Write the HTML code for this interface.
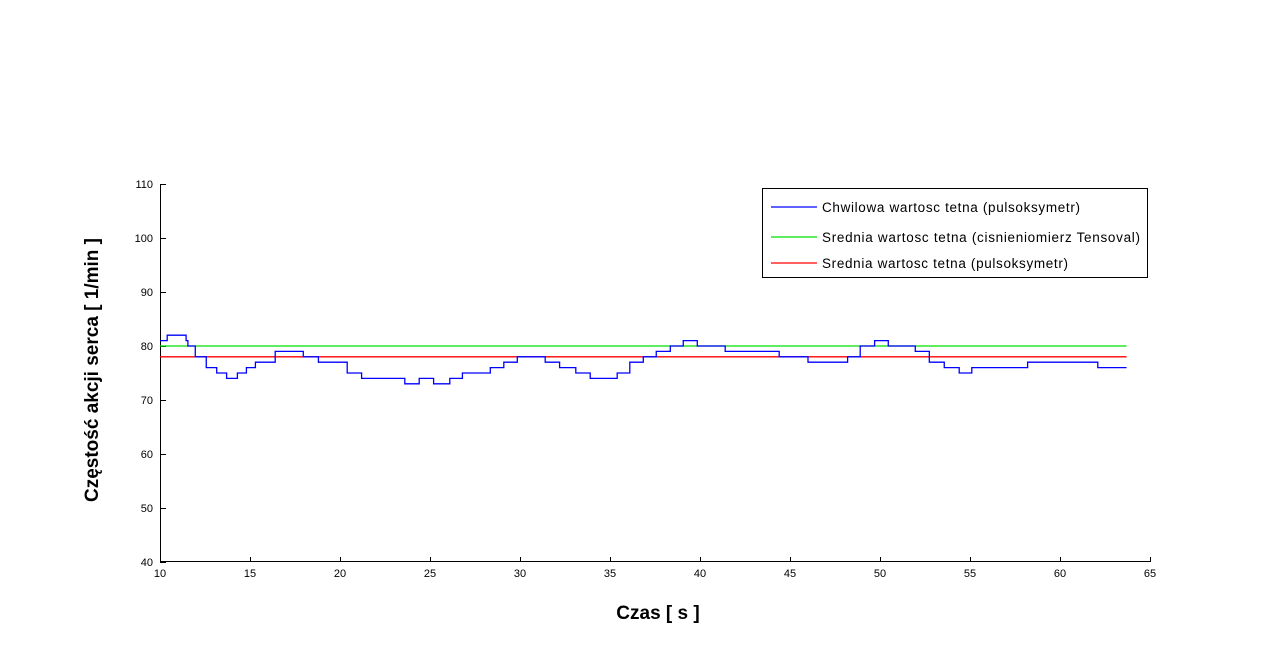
<!DOCTYPE html>
<html><head><meta charset="utf-8"><style>
body{margin:0;background:#fff;}
svg{display:block;font-family:"Liberation Sans",Arial,sans-serif;}
</style></head><body>
<svg id="chart" width="1281" height="660" viewBox="0 0 1281 660">
<g id="axes"></g>
<g id="series"></g>
<text transform="translate(98,370) rotate(-90)" text-anchor="middle" font-size="19" font-weight="bold" fill="#000">Częstość akcji serca [ 1/min ]</text>
<text x="658" y="619" text-anchor="middle" font-size="19" font-weight="bold" fill="#000">Czas [ s ]</text>
<g>
<rect x="762.5" y="188.5" width="385" height="89" fill="#fff" stroke="#000" stroke-width="1"/>
<g><line x1="771" x2="817" y1="207" y2="207" stroke="#0000ff" stroke-width="1.3"/><text x="822" y="212" font-size="13.5" textLength="258">Chwilowa wartosc tetna (pulsoksymetr)</text></g>
<g><line x1="771" x2="817" y1="237" y2="237" stroke="#00e000" stroke-width="1.3"/><text x="822" y="242" font-size="13.5" textLength="318">Srednia wartosc tetna (cisnieniomierz Tensoval)</text></g>
<g><line x1="771" x2="817" y1="263" y2="263" stroke="#ff0000" stroke-width="1.3"/><text x="822" y="268" font-size="13.5" textLength="246">Srednia wartosc tetna (pulsoksymetr)</text></g>
</g>
</svg>
<script>
const xTicks=[10,15,20,25,30,35,40,45,50,55,60,65];
const yTicks=[40,50,60,70,80,90,100,110];
const stepTimes=[10,10.4,11.45,11.55,11.96,12.57,13.15,13.7,14.3,14.8,15.3,16.4,17.96,18.8,20.4,21.2,23.6,24.4,25.2,26.1,26.8,28.35,29.1,29.85,31.4,32.2,33.1,33.9,35.4,36.1,36.85,37.57,38.35,39.07,39.85,41.4,44.4,46.0,48.2,48.9,49.7,50.46,51.96,52.74,53.57,54.4,55.1,58.2,62.1];
const stepValues=[81,82,81,80,78,76,75,74,75,76,77,79,78,77,75,74,73,74,73,74,75,76,77,78,77,76,75,74,75,77,78,79,80,81,80,79,78,77,78,80,81,80,79,77,76,75,76,77,76];
const endTime=63.7;
const meanTensoval=80;
const meanPulse=78;
const X=t=>160+(t-10)*18, Y=v=>562-(v-40)*5.4;
const NS="http://www.w3.org/2000/svg";
const ax=document.getElementById('axes'), se=document.getElementById('series');
function mk(tag,attrs,parent){const e=document.createElementNS(NS,tag);for(const k in attrs)e.setAttribute(k,attrs[k]);parent.appendChild(e);return e;}
let a=mk('line',{x1:160.5,x2:160.5,y1:184,y2:562,stroke:'#000'},ax);


a=mk('line',{x1:160,x2:1150,y1:561.5,y2:561.5,stroke:'#000'},ax);


xTicks.forEach(t=>{
 const l=mk('line',{x1:X(t)+0.5,x2:X(t)+0.5,y1:562,y2:557,stroke:'#000'},ax);
 
 
 const tx=mk('text',{x:X(t),y:577,'text-anchor':'middle','font-size':11},ax);tx.textContent=t;
 
 
});
yTicks.forEach(v=>{
 const l=mk('line',{x1:160,x2:166,y1:Y(v)+0.5,y2:Y(v)+0.5,stroke:'#000'},ax);
 
 
 const tx=mk('text',{x:153,y:Y(v)+4,'text-anchor':'end','font-size':11},ax);tx.textContent=v;
 
 
});
let g=mk('line',{x1:X(10),x2:X(endTime),y1:Y(meanTensoval),y2:Y(meanTensoval),stroke:'#00e000','stroke-width':1.3},se);


let r=mk('line',{x1:X(10),x2:X(endTime),y1:Y(meanPulse),y2:Y(meanPulse),stroke:'#ff0000','stroke-width':1.3},se);


let d='';
stepTimes.forEach((t,i)=>{
 const next=i+1<stepTimes.length?stepTimes[i+1]:endTime;
 d+=(i===0?'M':'L')+X(t)+','+Y(stepValues[i])+'L'+X(next)+','+Y(stepValues[i]);
});
const p=mk('path',{d:d,fill:'none',stroke:'#0000ff','stroke-width':1.3},se);


</script>
</body></html>
